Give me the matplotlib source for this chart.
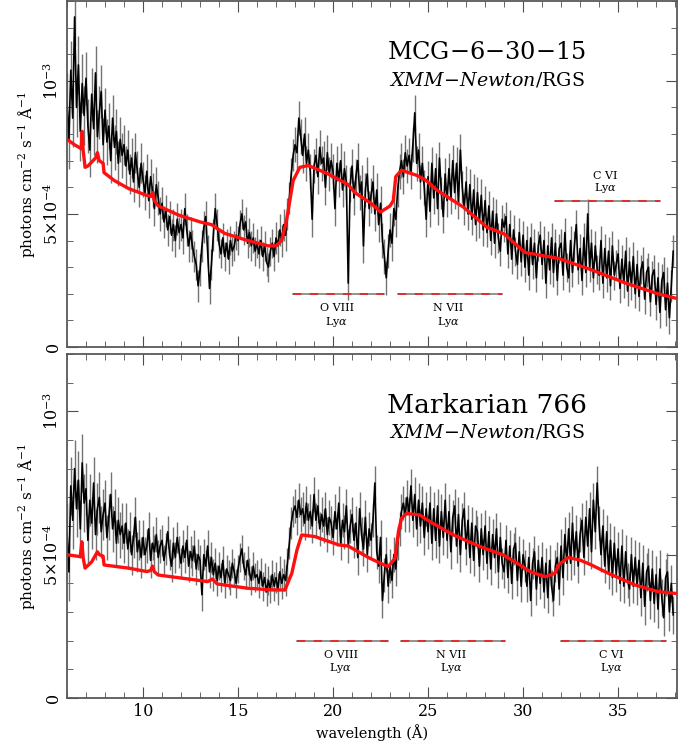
import numpy as np
import matplotlib
matplotlib.use("Agg")
import matplotlib.pyplot as plt
from matplotlib.ticker import MultipleLocator, FixedLocator

plt.rcParams.update({"font.family": ["DejaVu Serif"], "mathtext.fontset": "dejavuserif"})

# wavelength grid start / bin width (Angstrom); flux values in 1e-4 ph/cm2/s/A
WL_START, WL_BIN = 6.0, 0.1

# MCG-6-30-15 binned flux, one row per Angstrom (6..37)
mcg_flux = [
    9.2, 7.8, 10.4, 8.6, 12.4, 9.0, 10.6, 8.1, 9.9, 8.7,
    10.1, 8.3, 7.4, 9.5, 8.2, 10.3, 7.9, 8.8, 9.6, 7.6,
    8.9, 7.7, 8.3, 7.0, 8.6, 7.5, 8.1, 6.9, 7.8, 7.2,
    7.6, 6.8, 7.4, 6.5, 7.1, 6.2, 7.3, 6.6, 6.0, 6.9,
    6.3, 5.8, 6.6, 5.5, 6.4, 5.9, 5.2, 6.1, 5.6, 5.0,
    5.4, 4.7, 5.1, 4.4, 4.9, 4.2, 4.6, 4.0, 4.8, 4.3,
    4.6, 4.1, 5.2, 4.4, 3.8, 4.3, 3.8, 3.4, 3.1, 2.3,
    2.9, 3.8, 4.5, 4.9, 3.6, 2.2, 3.1, 4.2, 5.2, 4.6,
    3.9, 3.5, 4.1, 3.4, 3.9, 3.3, 4.0, 3.6, 3.8, 4.2,
    4.0, 4.6, 5.0, 4.4, 4.7, 3.9, 4.3, 3.8, 4.1, 3.6,
    3.9, 3.5, 4.0, 3.4, 3.8, 3.2, 3.0, 3.6, 3.9, 3.4,
    4.1, 3.8, 4.4, 4.0, 4.6, 4.2, 5.0, 5.6, 6.5, 7.2,
    7.6, 7.3, 8.6, 7.9, 7.2, 8.0, 6.9, 7.4, 6.6, 4.8,
    6.8, 7.2, 6.4, 7.5, 6.9, 7.1, 6.0, 7.3, 6.5, 7.0,
    6.6, 5.2, 6.9, 6.3, 7.0, 5.9, 6.7, 6.2, 2.4, 6.1,
    6.8, 5.6, 6.4, 7.0, 5.8, 6.2, 3.8, 5.9, 6.5, 5.2,
    5.7, 6.2, 5.0, 5.9, 4.6, 5.4, 4.0, 3.4, 2.6, 3.6,
    4.4, 3.9, 5.2, 4.8, 5.9, 6.6, 7.0, 6.4, 7.3, 6.8,
    7.2, 6.6, 7.6, 8.8, 6.9, 7.4, 6.2, 6.9, 6.0, 4.8,
    6.4, 5.1, 6.9, 5.6, 6.7, 5.2, 7.1, 5.8, 4.9, 6.5,
    5.5, 6.7, 5.6, 7.0, 5.8, 6.9, 5.4, 7.4, 6.0, 5.2,
    6.2, 5.0, 6.1, 4.8, 5.9, 4.6, 5.8, 4.7, 5.7, 4.4,
    5.5, 4.3, 5.3, 4.0, 5.1, 3.9, 5.0, 4.1, 3.6, 4.8,
    4.5, 4.9, 3.5, 4.6, 3.3, 4.4, 3.6, 3.1, 4.3, 3.2,
    4.2, 3.0, 4.0, 2.7, 4.1, 3.1, 3.9, 2.6, 3.8, 4.2,
    3.1, 4.0, 2.4, 3.8, 2.9, 4.1, 2.8, 3.9, 2.5, 3.7,
    3.9, 2.7, 4.3, 3.0, 2.6, 4.0, 2.8, 3.8, 4.6, 2.9,
    3.7, 2.5, 4.1, 2.8, 5.0, 3.0, 3.9, 2.6, 3.8, 2.9,
    2.7, 4.0, 2.4, 3.7, 2.6, 3.6, 2.3, 3.8, 2.7, 3.1,
    3.5, 2.2, 3.3, 2.4, 3.6, 2.1, 3.2, 2.3, 3.4, 2.0,
    3.1, 1.9, 2.9, 3.2, 1.8, 2.8, 3.0, 1.7, 2.7, 2.9,
    1.6, 2.6, 1.3, 2.5, 2.8, 1.4, 2.4, 1.1, 2.3, 3.6,
]
# 1-sigma error per 1 A chunk
mcg_err = [1.1, 1.0, 0.85, 0.75, 0.65, 0.6, 0.6, 0.6, 0.55, 0.55, 0.55, 0.6,
           0.65, 0.65, 0.65, 0.65, 0.65, 0.65, 0.65, 0.6, 0.6, 0.6, 0.55, 0.55,
           0.55, 0.55, 0.55, 0.55, 0.55, 0.55, 0.55, 0.6]

mrk_flux = [
    5.8, 4.4, 7.4, 6.2, 8.0, 6.6, 7.6, 5.9, 8.2, 6.8,
    7.3, 5.5, 6.9, 6.1, 7.5, 5.7, 6.6, 7.0, 5.8, 6.4,
    6.8, 5.6, 6.3, 7.1, 5.9, 6.5, 5.4, 6.2, 5.7, 6.0,
    5.4, 6.1, 5.2, 5.8, 5.0, 5.6, 6.3, 5.1, 5.5, 4.9,
    5.6, 5.0, 5.3, 5.9, 4.8, 5.4, 5.1, 5.7, 4.9, 5.3,
    5.5, 4.8, 5.2, 5.8, 5.0, 4.6, 5.4, 4.9, 5.6, 5.1,
    4.7, 5.3, 4.9, 5.5, 4.6, 5.1, 4.8, 5.3, 4.5, 5.0,
    4.8, 3.6, 5.0, 4.6, 5.3, 4.4, 4.9, 4.3, 4.7, 4.1,
    4.6, 4.2, 4.8, 4.0, 4.5, 4.3, 4.1, 4.7, 4.4, 4.0,
    4.5, 4.9, 5.2, 4.6, 4.3, 4.8, 4.4, 4.1, 4.6, 4.2,
    4.3, 4.0, 4.4, 3.9, 4.2, 3.7, 4.1, 3.8, 4.3, 3.9,
    4.2, 3.8, 4.4, 4.0, 4.3, 4.1, 4.7, 5.4, 6.1, 6.5,
    6.7, 6.3, 6.9, 6.4, 6.6, 6.1, 6.8, 6.2, 6.5, 6.0,
    7.1, 6.2, 6.7, 5.9, 6.4, 6.0, 6.6, 5.7, 6.3, 6.1,
    5.6, 6.5, 5.9, 6.8, 5.4, 6.2, 5.8, 6.7, 5.3, 6.0,
    6.4, 5.5, 6.1, 4.9, 6.6, 5.7, 5.2, 6.3, 5.0, 5.9,
    5.5, 6.2, 7.5, 5.1, 4.6, 5.6, 3.4, 4.3, 5.0, 3.9,
    4.6, 4.1, 5.0, 4.5, 5.4, 5.9, 6.5, 6.8, 6.4, 7.0,
    6.4, 7.4, 6.2, 7.1, 5.9, 6.9, 6.0, 6.8, 5.6, 6.6,
    5.8, 6.8, 5.4, 6.6, 5.5, 6.7, 5.3, 6.5, 5.6, 6.9,
    5.5, 6.5, 5.1, 6.3, 6.7, 5.3, 6.4, 5.0, 6.2, 6.6,
    5.2, 6.2, 4.9, 6.1, 4.8, 6.0, 5.8, 4.6, 5.9, 5.0,
    6.0, 4.7, 5.8, 4.5, 5.7, 4.9, 5.9, 4.4, 5.6, 4.7,
    4.4, 5.5, 4.2, 5.3, 4.0, 5.2, 5.4, 4.1, 5.1, 3.9,
    5.0, 4.6, 3.9, 4.9, 3.4, 4.7, 5.1, 3.8, 4.8, 4.0,
    4.9, 3.7, 4.7, 3.5, 4.8, 3.9, 3.4, 4.6, 4.9, 3.8,
    5.3, 4.2, 5.7, 4.7, 5.9, 4.7, 6.1, 4.9, 5.8, 4.6,
    5.7, 6.2, 4.9, 6.3, 5.3, 6.6, 5.1, 6.9, 5.8, 7.5,
    6.1, 5.0, 6.0, 4.6, 5.8, 4.4, 5.5, 4.2, 5.4, 4.3,
    5.2, 4.0, 5.3, 3.9, 5.1, 4.1, 3.8, 5.0, 3.9, 4.9,
    3.9, 4.8, 3.5, 4.7, 3.2, 4.4, 4.6, 3.4, 4.5, 3.3,
    4.3, 3.1, 4.5, 3.5, 2.8, 4.2, 4.4, 3.0, 4.0, 2.9,
]
mrk_err = [1.0, 0.9, 0.8, 0.7, 0.6, 0.55, 0.55, 0.55, 0.5, 0.5, 0.5, 0.55,
           0.6, 0.6, 0.6, 0.6, 0.6, 0.6, 0.6, 0.6, 0.6, 0.55, 0.55, 0.55,
           0.55, 0.55, 0.6, 0.6, 0.6, 0.6, 0.65, 0.65]

# best-fit models (wavelength, flux 1e-4)
mcg_model_wl = [6.0, 6.4, 6.75, 6.8, 6.85, 6.95, 7.1, 7.3, 7.5, 7.6, 7.7, 7.9, 7.95,
                8.5, 9.25, 10.0, 10.4, 10.5, 10.6, 10.8, 11.9, 13.0, 13.6, 13.8,
                14.3, 15.5, 16.6, 17.0, 17.3, 17.55, 17.75, 17.9, 18.25, 18.7,
                19.75, 20.8, 21.15, 22.0, 22.5, 23.0, 23.17, 23.3, 23.6, 24.4,
                24.9, 25.45, 26.85, 28.1, 29.0, 30.1, 31.85, 33.6, 35.4, 37.1, 38.0]
mcg_model = [7.8, 7.6, 7.45, 8.1, 7.4, 6.75, 6.8, 6.95, 7.1, 7.3, 7.0, 6.9, 6.55,
             6.25, 5.95, 5.75, 5.65, 5.8, 5.5, 5.3, 4.95, 4.7, 4.6, 4.5,
             4.27, 4.0, 3.8, 3.8, 4.0, 4.75, 5.6, 6.25, 6.75, 6.82,
             6.5, 6.1, 5.8, 5.4, 5.07, 5.3, 5.5, 6.4, 6.64, 6.45,
             6.26, 5.9, 5.26, 4.5, 4.25, 3.55, 3.33, 2.9, 2.4, 2.0, 1.84]

mrk_model_wl = [6.0, 6.7, 6.78, 6.85, 6.95, 7.3, 7.6, 7.7, 7.9, 7.95, 9.25, 10.2,
                10.4, 10.5, 10.6, 10.8, 12.75, 13.4, 13.65, 13.9, 14.3, 15.5, 16.8,
                17.47, 17.83, 18.1, 18.35, 19.05, 20.3, 20.8, 21.95, 22.9, 23.26,
                23.44, 23.6, 23.88, 24.58, 25.1, 26.33, 27.74, 28.96, 29.84, 30.37,
                31.16, 31.68, 31.86, 32.38, 33.0, 33.6, 34.49, 35.9, 37.1, 38.0]
mrk_model = [5.0, 4.93, 5.45, 4.9, 4.53, 4.75, 5.1, 5.0, 4.95, 4.64, 4.53, 4.41,
             4.45, 4.6, 4.4, 4.29, 4.12, 4.06, 4.15, 3.98, 3.94, 3.83, 3.77,
             3.77, 4.35, 5.16, 5.69, 5.63, 5.34, 5.3, 4.87, 4.58, 4.87,
             5.8, 6.27, 6.44, 6.38, 6.15, 5.69, 5.28, 4.99, 4.64, 4.41,
             4.23, 4.35, 4.64, 4.9, 4.81, 4.64, 4.35, 3.94, 3.71, 3.65]

# line regions: (name, start, end, bar level 1e-4, label above bar?)
mcg_lines = [("O VIII", 17.9, 22.7, 2.0, False), ("N VII", 23.4, 28.9, 2.0, False),
             ("C VI", 31.7, 37.2, 5.5, True)]
mrk_lines = [("O VIII", 18.1, 22.9, 2.0, False), ("N VII", 23.6, 29.05, 2.0, False),
             ("C VI", 32.0, 37.5, 2.0, False)]

W, H = 689, 744
fig = plt.figure(figsize=(W / 100, H / 100), dpi=100)
ax1 = fig.add_axes([67 / W, (H - 347) / H, 610 / W, 346 / H])
ax2 = fig.add_axes([67 / W, (H - 698) / H, 610 / W, 344 / H])


def panel(ax, flux, err, mwl, mod, lines, name, name_size, ymax):
    wl = WL_START + WL_BIN * np.arange(len(flux))
    y = np.array(flux) * 1e-4
    e = np.repeat(err, 10)[:len(flux)] * 1e-4
    ax.errorbar(wl, y, yerr=e, color="k", lw=1.2, ecolor="0.45", elinewidth=1.0, zorder=2)
    ax.plot(mwl, np.array(mod) * 1e-4, color="#ff1010", lw=2.4, zorder=3)
    for lab, a, b, lev, above in lines:
        ax.plot([a, b], [lev * 1e-4] * 2, color="0.5", lw=1.2, zorder=3)
        ax.plot([a, b], [lev * 1e-4] * 2, color="#ee1c1c", lw=1.2, ls=(0, (5, 5)), zorder=4)
        c = (a + b) / 2 - 0.1
        offs = (18, 9) if above else (-10.5, -20)
        ax.annotate(lab, (c, lev * 1e-4), xytext=(0, offs[0]), textcoords="offset points",
                    ha="center", va="center", fontsize=8)
        ax.annotate(r"Ly$\alpha$", (c, lev * 1e-4), xytext=(0, offs[1]), textcoords="offset points",
                    ha="center", va="center", fontsize=8)
    ax.text(0.688, 0.85, name, transform=ax.transAxes, ha="center", va="center", fontsize=name_size)
    ax.text(0.688, 0.772, r"$\it{XMM\!-\!Newton}$/RGS", transform=ax.transAxes,
            ha="center", va="center", fontsize=13.7)
    ax.set_xlim(6, 38.1)
    ax.set_ylim(0, ymax)
    ax.xaxis.set_major_locator(MultipleLocator(5))
    ax.xaxis.set_minor_locator(MultipleLocator(1))
    ax.yaxis.set_major_locator(FixedLocator([0, 5e-4, 1e-3]))
    ax.yaxis.set_minor_locator(MultipleLocator(1e-4))
    ax.set_yticklabels(["0", r"$5{\times}10^{-4}$", r"$10^{-3}$"], rotation=90, va="center")
    ax.tick_params(which="both", direction="in", top=True, right=True, color="0.3")
    ax.tick_params(which="major", length=8, labelsize=11.5)
    ax.tick_params(which="minor", length=4)
    for s in ax.spines.values():
        s.set_color("0.35")
        s.set_linewidth(1.3)
    ax.set_ylabel(r"photons cm$^{-2}$ s$^{-1}$ Å$^{-1}$", fontsize=11, labelpad=4)


panel(ax1, mcg_flux, mcg_err, mcg_model_wl, mcg_model, mcg_lines, "MCG$-$6$-$30$-$15", 17.3, 1.3e-3)
panel(ax2, mrk_flux, mrk_err, mrk_model_wl, mrk_model, mrk_lines, "Markarian 766", 19, 1.2e-3)
ax1.tick_params(labelbottom=False)
ax2.set_xlabel("wavelength (Å)", fontsize=10.5, labelpad=3)

fig.savefig("out.png", dpi=100)
